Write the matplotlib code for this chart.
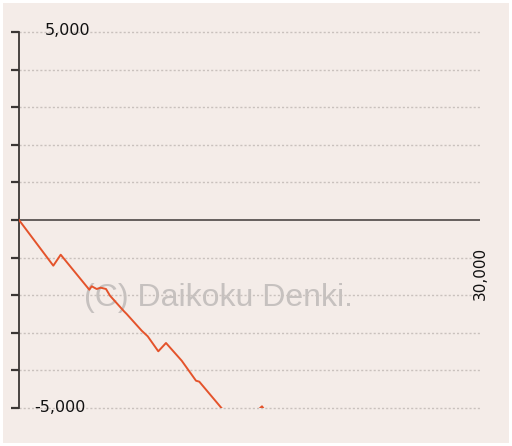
import matplotlib.pyplot as plt
from matplotlib.patches import Rectangle

# game count vs. balance
games = [0, 2232, 2714, 4575, 4731, 5056, 5317, 5662, 5922, 6833, 7008,
         7985, 8375, 9065, 9566, 10588, 11518, 11733, 13191, 14000, 15300,
         15813, 16300, 18000]
balance = [0, -1215, -923, -1854, -1763, -1835, -1800, -1835, -2013, -2428,
           -2500, -2944, -3093, -3492, -3271, -3742, -4274, -4300, -5008,
           -5300, -5150, -4955, -5250, -5800]

y_ticks = list(range(-5000, 5001, 1000))

bg = "#f4ece8"
fig = plt.figure(figsize=(5.12, 4.46), dpi=100, facecolor="white")
fig.patches.append(Rectangle((3 / 512, 3 / 446), 506 / 512, 440 / 446,
                             transform=fig.transFigure, facecolor=bg,
                             edgecolor="none", zorder=-10))

ax = fig.add_axes([19 / 512, 1 - 408 / 446, 461 / 512, 376 / 446])
ax.patch.set_alpha(0)
ax.set_xlim(0, 30000)
ax.set_ylim(-5000, 5000)

for v in y_ticks:
    if v != 0:
        ax.axhline(v, color="#c9c1bd", lw=1, ls=(0, (1.5, 1.5)), zorder=1,
                   clip_on=False)
ax.axhline(0, color="#5a5452", lw=1.3, zorder=2)

ax.plot(games, balance, color="#e4532b", lw=1.4, zorder=3)

ax.text(0.432, 0.293, "(C) Daikoku Denki.", transform=ax.transAxes,
        ha="center", va="center", fontsize=23, family="Liberation Sans",
        color="#c6c1bf", zorder=0)

for s in ["top", "right", "bottom"]:
    ax.spines[s].set_visible(False)
ax.spines["left"].set_color("#3a3634")
ax.spines["left"].set_linewidth(1.3)
ax.set_yticks(y_ticks)
ax.set_yticklabels([])
ax.set_xticks([])
ax.tick_params(axis="y", length=6, width=1.6, color="#3a3634")

ax.text(0.055, 5050, "5,000", fontsize=11.5, color="#111111",
        transform=ax.get_yaxis_transform(), ha="left", va="center")
ax.text(0.033, -5000, "-5,000", fontsize=11.5, color="#111111",
        transform=ax.get_yaxis_transform(), ha="left", va="center")
ax.text(30000, -1410, "30,000", fontsize=11, color="#111111",
        rotation=90, ha="center", va="center", clip_on=False)

fig.savefig("out.png", dpi=100, facecolor="white")
